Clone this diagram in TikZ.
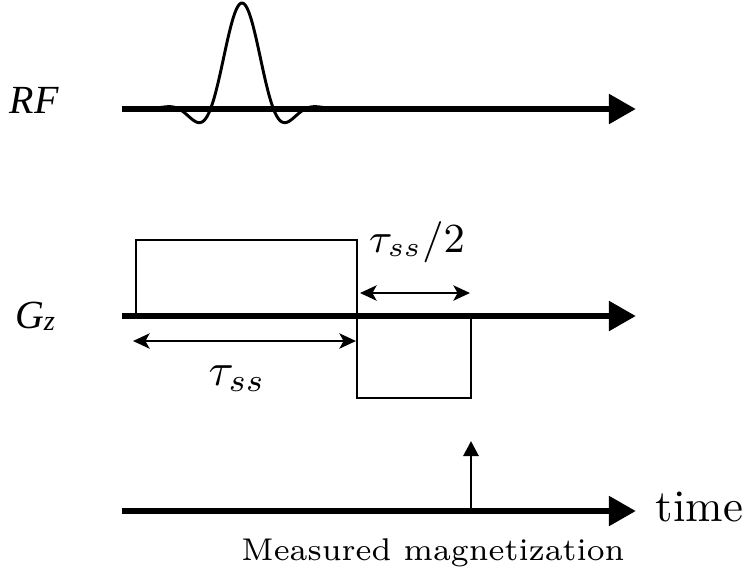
\documentclass[tikz,border=0pt]{standalone}
\usepackage{fontspec}
\newfontfamily\chanfont{Liberation Serif}
\usetikzlibrary{arrows.meta}

\tikzset{
  axis/.style={line width=1.46pt,-{Triangle[length=5.9pt,width=6.2pt]}},
  lobe/.style={line width=0.64pt},
  span/.style={line width=0.64pt,
    {Stealth[length=3.6pt,width=3.3pt,inset=0.9pt]}-{Stealth[length=3.6pt,width=3.3pt,inset=0.9pt]}},
  signal/.style={line width=0.64pt,-{Triangle[length=3.3pt,width=3.3pt]}},
  chan/.style={anchor=base,inner sep=0pt,font=\fontsize{8.7}{10}\selectfont\chanfont\itshape},
}

\begin{document}
\begin{tikzpicture}[x=0.218pt,y=-0.218pt]
        \useasboundingbox (0,0) rectangle (744,577);
        % channel labels
        \draw (34,113) node[chan] (rf) {RF};
        \draw (35,328) node[chan] (gz) {G{\fontsize{6.2}{7}\selectfont\raisebox{-0.45pt}{z}}};
        % time axes
        \coordinate (rfa) at (122,109);
        \coordinate (rfb) at (636,109);
        \coordinate (gza) at (122,316);
        \coordinate (gzb) at (636,316);
        \coordinate (ta) at (122,511);
        \coordinate (tb) at (636,511);
        % RF pulse (windowed sinc)
        \draw[lobe] plot[domain=-3:3,samples=200]
          ({242+31.5*\x},{109-106*sin(180*\x)/(pi*\x)*(0.54+0.46*cos(60*\x))});
        \draw[axis] (rfa)--(rfb);
        % slice select gradient
        \draw[lobe] (136,316)--(136,240)--(357,240)--(357,398)--(471,398)--(471,316);
        \draw[axis] (gza)--(gzb);
        \coordinate (s1) at (133,341);
        \coordinate (s2) at (356,341);
        \coordinate (h1) at (360,293);
        \coordinate (h2) at (470,293);
        \draw[span] (s1)--(s2);
        \draw[span] (h1)--(h2);
        \draw (237,385) node[anchor=base,inner sep=0pt,font=\fontsize{10}{12}\selectfont] (tau) {$\tau_{ss}$};
        \draw (417,252) node[anchor=base,inner sep=0pt,font=\fontsize{9.1}{11}\selectfont] (half) {$\tau_{ss}/2$};
        % readout
        \draw[axis] (ta)--(tb);
        \draw (655,521) node[anchor=base west,inner sep=0pt,font=\fontsize{9.8}{12}\selectfont] (time) {time};
        \coordinate (m0) at (471,511);
        \coordinate (m1) at (471,441);
        \draw[signal] (m0)--(m1);
        \draw (433,560) node[anchor=base,inner sep=0pt,font=\fontsize{6.85}{9}\selectfont] (meas) {Measured magnetization};
        \end{tikzpicture}
\end{document}
